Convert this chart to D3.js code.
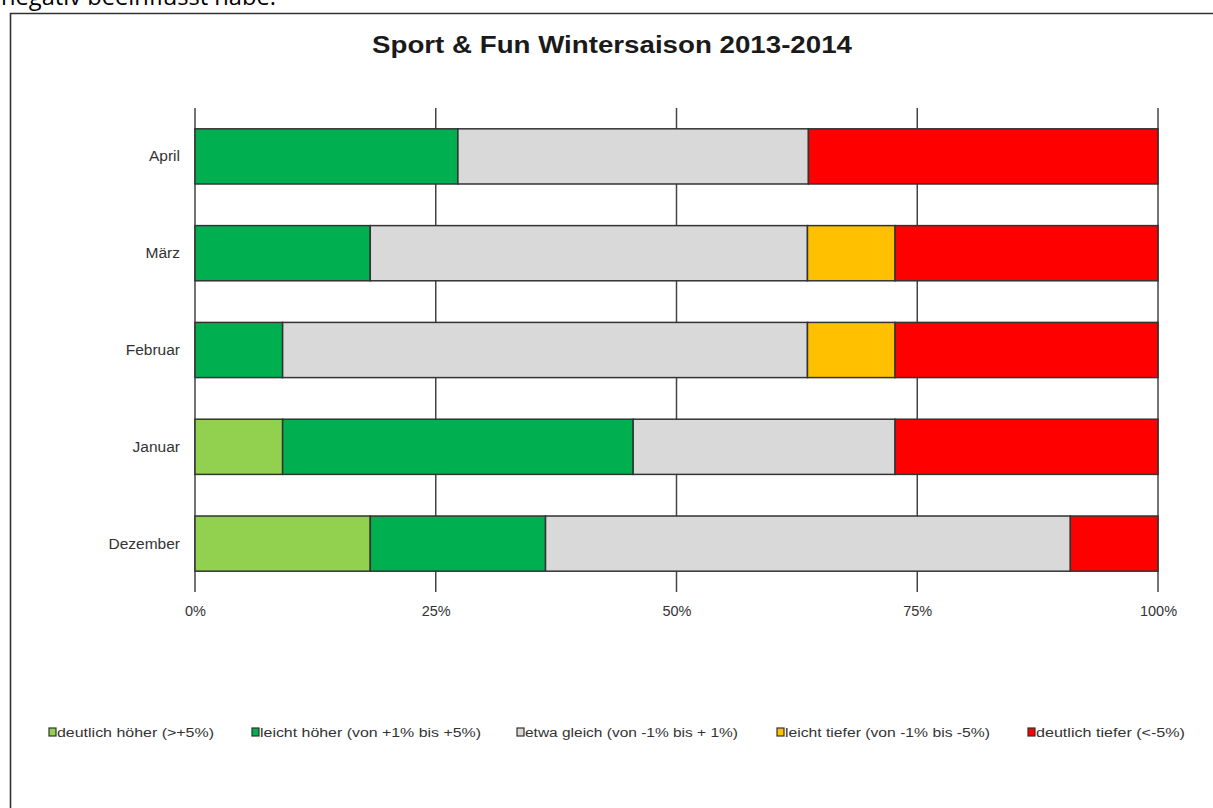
<!DOCTYPE html>
<html>
<head>
<meta charset="utf-8">
<script src="https://cdn.jsdelivr.net/npm/d3@7"></script>
<style>
  html, body { margin: 0; padding: 0; background: #fff; }
  svg { display: block; }
</style>
</head>
<body>
<svg id="chart" width="1213" height="808"></svg>
<script>
// Monthly shares of answers (percent), one array per answer category
const months = ["April", "März", "Februar", "Januar", "Dezember"];
const seriesKeys = ["deutlichHoeher", "leichtHoeher", "etwaGleich", "leichtTiefer", "deutlichTiefer"];
const seriesLabels = [
  "deutlich höher (>+5%)",
  "leicht höher (von +1% bis +5%)",
  "etwa gleich (von -1% bis + 1%)",
  "leicht tiefer (von -1% bis -5%)",
  "deutlich tiefer (<-5%)"
];
const deutlichHoeher = [0, 0, 0, 9.1, 18.2];
const leichtHoeher   = [27.3, 18.2, 9.1, 36.4, 18.2];
const etwaGleich     = [36.4, 45.4, 54.5, 27.2, 54.5];
const leichtTiefer   = [0, 9.1, 9.1, 0, 0];
const deutlichTiefer = [36.3, 27.3, 27.3, 27.3, 9.1];
const tickValues = [0, 25, 50, 75, 100];
const tickLabels = ["0%", "25%", "50%", "75%", "100%"];

const colors = ["#92D050", "#00B050", "#D9D9D9", "#FFC000", "#FF0000"];
const seriesValues = [deutlichHoeher, leichtHoeher, etwaGleich, leichtTiefer, deutlichTiefer];

const rows = months.map((m, i) => {
  const r = { month: m };
  seriesKeys.forEach((k, j) => { r[k] = seriesValues[j][i]; });
  return r;
});

const svg = d3.select("#chart");

// Text line from the surrounding document, cut at the top edge
svg.append("text")
  .attr("x", 1).attr("y", 5)
  .attr("font-family", "'Open Sans', 'Liberation Sans', sans-serif")
  .attr("font-size", 24)
  .attr("fill", "#000")
  .attr("textLength", 275)
  .attr("lengthAdjust", "spacingAndGlyphs")
  .text("negativ beeinflusst habe.");

// Chart frame (left and top edges visible)
svg.append("path")
  .attr("d", "M10.5,830 L10.5,13.5 L1230,13.5")
  .attr("fill", "none")
  .attr("stroke", "#333")
  .attr("stroke-width", 1.6);

// Title
svg.append("text")
  .attr("x", 372).attr("y", 53)
  .attr("font-family", "'Liberation Sans', Arial, sans-serif")
  .attr("font-weight", "bold")
  .attr("font-size", 23)
  .attr("fill", "#1a1a1a")
  .attr("textLength", 480)
  .attr("lengthAdjust", "spacingAndGlyphs")
  .text("Sport & Fun Wintersaison 2013-2014");

const plot = { left: 195, right: 1158, top: 108, bottom: 592 };

const x = d3.scaleLinear().domain([0, 100]).range([plot.left, plot.right]);
const y = d3.scaleBand().domain(months).range([plot.top, plot.bottom]).paddingInner(0.43).paddingOuter(0.215);

// Vertical gridlines
svg.append("g")
  .selectAll("line")
  .data(tickValues)
  .join("line")
  .attr("x1", d => x(d)).attr("x2", d => x(d))
  .attr("y1", plot.top).attr("y2", plot.bottom)
  .attr("stroke", "#444")
  .attr("stroke-width", 1.5);

// Stacked bars
const stacked = d3.stack().keys(seriesKeys)(rows);
svg.append("g")
  .selectAll("g")
  .data(stacked)
  .join("g")
  .attr("fill", (d, i) => colors[i])
  .selectAll("rect")
  .data(d => d.filter(s => s[1] - s[0] > 0))
  .join("rect")
  .attr("x", d => x(d[0]))
  .attr("width", d => x(d[1]) - x(d[0]))
  .attr("y", d => y(d.data.month))
  .attr("height", y.bandwidth())
  .attr("stroke", "#333")
  .attr("stroke-width", 1.5);

// Category labels
const yAxis = d3.axisLeft(y).tickSize(0).tickPadding(15);
const gy = svg.append("g").attr("transform", `translate(${plot.left},0)`).call(yAxis);
gy.select(".domain").remove();
gy.selectAll("text")
  .attr("font-family", "'Liberation Sans', Arial, sans-serif")
  .attr("font-size", 15.5)
  .attr("fill", "#333");

// Percent axis labels
const xAxis = d3.axisBottom(x).tickValues(tickValues).tickFormat((d, i) => tickLabels[i]).tickSize(0).tickPadding(14);
const gx = svg.append("g").attr("transform", `translate(0,${plot.bottom})`).call(xAxis);
gx.select(".domain").remove();
gx.selectAll("text")
  .attr("font-family", "'Liberation Sans', Arial, sans-serif")
  .attr("font-size", 14.5)
  .attr("fill", "#333");

// Legend
const legendX = [49, 252, 517, 777, 1028];
const legendW = [157, 221, 213, 205, 149];
const legend = svg.append("g")
  .selectAll("g")
  .data(seriesLabels)
  .join("g")
  .attr("transform", (d, i) => `translate(${legendX[i]},732)`);
legend.append("rect")
  .attr("x", 0).attr("y", -4)
  .attr("width", 7).attr("height", 8)
  .attr("fill", (d, i) => colors[i])
  .attr("stroke", "#333")
  .attr("stroke-width", 1.2);
legend.append("text")
  .attr("x", 8).attr("y", 4.5)
  .attr("font-family", "'Liberation Sans', Arial, sans-serif")
  .attr("font-size", 12.5)
  .attr("fill", "#333")
  .attr("textLength", (d, i) => legendW[i])
  .attr("lengthAdjust", "spacingAndGlyphs")
  .text(d => d);
</script>
</body>
</html>
